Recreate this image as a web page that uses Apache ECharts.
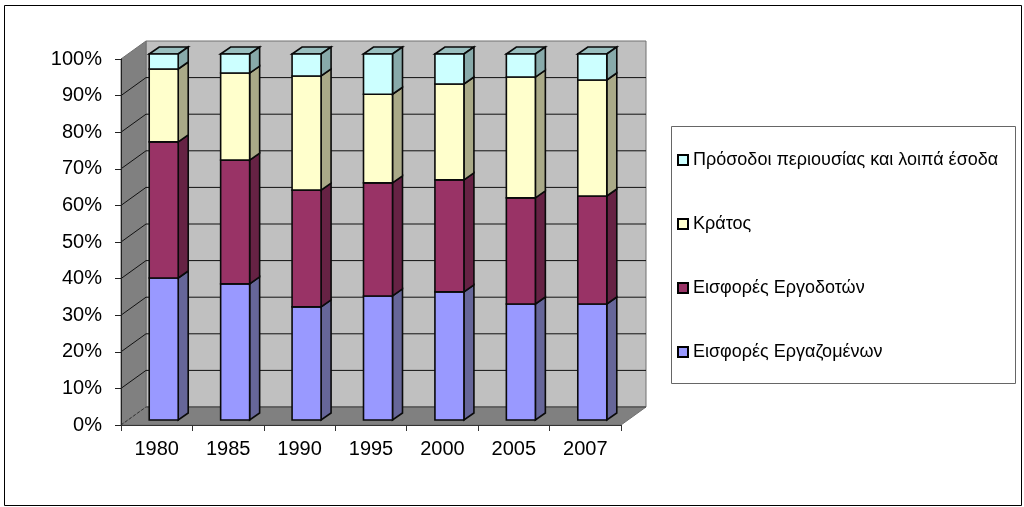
<!DOCTYPE html>
<html><head><meta charset="utf-8">
<style>html,body{margin:0;padding:0;background:#fff}#c{width:1024px;height:507px}</style>
<script src="https://cdn.jsdelivr.net/npm/echarts@6/dist/echarts.min.js"></script>
</head><body><div id="c"></div>
<script>
const categories = ['1980','1985','1990','1995','2000','2005','2007'];
const workers  = [38.8,37.2,30.9,33.9,35.0,31.7,31.7];
const employers= [37.2,33.8,31.9,30.9,30.6,29.0,29.5];
const state    = [19.9,23.8,31.2,24.2,26.2,33.0,31.7];
const income   = [4.1,5.2,6.0,11.0,8.2,6.3,7.1];
const names = ['Εισφορές Εργαζομένων','Εισφορές Εργοδοτών','Κράτος','Πρόσοδοι περιουσίας και λοιπά έσοδα'];
const legendOrder = [names[3],names[2],names[1],names[0]];
const yTicks = [0,10,20,30,40,50,60,70,80,90,100];

const WALL_DX=25, WALL_DY=-18, BAR_DX=7, BAR_DY=-5, DEPTH_DX=10, DEPTH_DY=-7, BAR_W=29;
const FONT='"Liberation Sans", Arial, sans-serif';
const styles=[
  {front:'#9999FF',side:'#666699',top:'#7F7FCC'},
  {front:'#993366',side:'#662244',top:'#7F2A55'},
  {front:'#FFFFCC',side:'#AAAA88',top:'#CCCCA3'},
  {front:'#CCFFFF',side:'#88AAAA',top:'#99BFBF'}
];
const all=[workers,employers,state,income];
function poly(points,fill,stroke,lw,extra){
  return {type:'polygon',shape:{points},style:Object.assign({fill,stroke,lineWidth:lw,lineJoin:'miter'},extra||{})};
}
function barSeries(i){
  const rows=categories.map((c,k)=>{let s=0;for(let j=0;j<i;j++)s+=all[j][k];return [k,s,s+all[i][k]];});
  return {
    type:'custom',name:names[i],coordinateSystem:'cartesian2d',z:4,silent:true,
    itemStyle:{color:styles[i].front},
    encode:{x:0,y:[1,2]},data:rows,
    renderItem(params,api){
      const a=api.coord([api.value(0),api.value(1)]), b=api.coord([api.value(0),api.value(2)]);
      const x0=a[0]+BAR_DX-BAR_W/2, x1=x0+BAR_W, yb=a[1]+BAR_DY, yt=b[1]+BAR_DY;
      const st=styles[i], L=1.6, K='#0a0a0a';
      const ch=[
        poly([[x1,yt],[x1+DEPTH_DX,yt+DEPTH_DY],[x1+DEPTH_DX,yb+DEPTH_DY],[x1,yb]],st.side,K,L),
        poly([[x0,yt],[x1,yt],[x1,yb],[x0,yb]],st.front,K,L)
      ];
      if(i===all.length-1) ch.unshift(poly([[x0,yt],[x0+DEPTH_DX,yt+DEPTH_DY],[x1+DEPTH_DX,yt+DEPTH_DY],[x1,yt]],st.top,K,L));
      return {type:'group',children:ch};
    }
  };
}
const wallSeries={
  type:'custom',name:'walls',coordinateSystem:'cartesian2d',z:1,silent:true,data:[[0,0]],
  renderItem(params){
    const g=params.coordSys, l=g.x, r=g.x+g.width, t=g.y, b=g.y+g.height, E='#707070';
    return {type:'group',children:[
      poly([[l+WALL_DX,t+WALL_DY],[r+WALL_DX,t+WALL_DY],[r+WALL_DX,b+WALL_DY],[l+WALL_DX,b+WALL_DY]],'#C0C0C0',E,1),
      poly([[l,t],[l+WALL_DX,t+WALL_DY],[l+WALL_DX,b+WALL_DY],[l,b]],'#808080',E,1),
      poly([[l,b],[r,b],[r+WALL_DX,b+WALL_DY],[l+WALL_DX,b+WALL_DY]],'#808080',E,1)
    ]};
  }
};
const gridSeries={
  type:'custom',name:'grid',coordinateSystem:'cartesian2d',z:2,silent:true,
  data:yTicks.map(v=>[0,v]),
  renderItem(params,api){
    const v=api.value(1), y=api.coord([0,v])[1], g=params.coordSys, l=g.x, r=g.x+g.width;
    if(v===100) return {type:'group',children:[]};
    const zero=v===0, col=zero?'#333':'#111';
    return {type:'group',children:[
      {type:'line',shape:{x1:l,y1:y,x2:l+WALL_DX,y2:y+WALL_DY},style:{stroke:col,lineWidth:1,lineDash:zero?[3,2]:null}},
      {type:'line',shape:{x1:l+WALL_DX,y1:y+WALL_DY,x2:r+WALL_DX,y2:y+WALL_DY},style:{stroke:zero?'#444':col,lineWidth:1}}
    ]};
  }
};
const chart=echarts.init(document.getElementById('c'),null,{renderer:'canvas'});
chart.setOption({
  animation:false,backgroundColor:'#fff',
  grid:{left:121,right:403,top:59,bottom:82,containLabel:false},
  xAxis:{type:'category',data:categories,z:6,
    axisLine:{show:true,lineStyle:{color:'#333',width:1}},
    axisTick:{show:true,length:6,alignWithLabel:false,lineStyle:{color:'#333'}},
    axisLabel:{color:'#000',fontFamily:FONT,fontSize:20,margin:14,interval:0},splitLine:{show:false}},
  yAxis:{type:'value',min:0,max:100,interval:10,z:6,
    axisLine:{show:true,lineStyle:{color:'#222',width:1}},
    axisTick:{show:true,length:6,lineStyle:{color:'#222'}},
    axisLabel:{color:'#000',fontFamily:FONT,fontSize:20,margin:19,formatter:'{value}%'},splitLine:{show:false}},
  legend:{data:legendOrder,orient:'vertical',left:677,top:150,itemWidth:10,itemHeight:10,itemGap:44,icon:'rect',
    selectedMode:false,itemStyle:{borderColor:'#000',borderWidth:2},
    textStyle:{color:'#000',fontFamily:FONT,fontSize:18,lineHeight:20},padding:0},
  graphic:[
    {type:'rect',z:-1,silent:true,shape:{x:4.5,y:5.5,width:1017,height:500},style:{fill:'none',stroke:'#000',lineWidth:1}},
    {type:'rect',z:-1,silent:true,shape:{x:671.5,y:126.5,width:344,height:257},style:{fill:'#fff',stroke:'#666',lineWidth:1}}
  ],
  series:[wallSeries,gridSeries].concat(all.map((_,i)=>barSeries(i)))
});
</script></body></html>
